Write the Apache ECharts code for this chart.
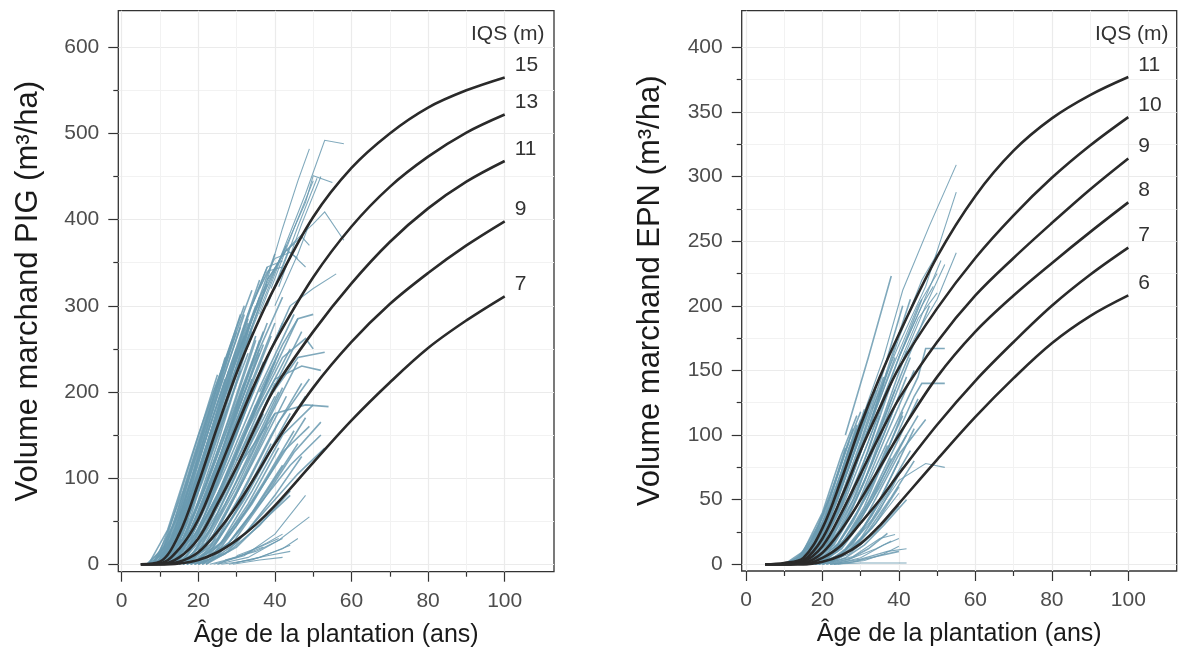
<!DOCTYPE html>
<html>
<head>
<meta charset="utf-8">
<script src="https://cdn.jsdelivr.net/npm/echarts@6/dist/echarts.min.js"></script>
<style>
  html, body { margin: 0; padding: 0; background: #fff; }
  #chart { width: 1178px; height: 650px; }
</style>
</head>
<body>
<div id="chart"></div>
<script>
// ages of the reference curves (ans)
var ages = [5, 10, 15, 20, 25, 30, 35, 40, 50, 60, 70, 80, 90, 100];

// PIG curves, volume (m3/ha) for each IQS
var pigIqs = ['15', '13', '11', '9', '7'];
var pig15 = [0, 3, 35, 94, 160, 222, 275, 322, 403, 460, 500, 530, 550, 565];
var pig13 = [0, 1, 18, 52, 105, 160, 212, 258, 333, 392, 438, 473, 501, 522];
var pig11 = [0, 0, 8, 30, 70, 113, 160, 205, 270, 326, 374, 413, 444, 468];
var pig9 = [0, 0, 3, 14, 38, 68, 103, 140, 205, 258, 302, 338, 370, 398];
var pig7 = [0, 0, 1, 5, 14, 28, 46, 68, 118, 167, 211, 251, 283, 311];

// EPN curves
var epnIqs = ['11', '10', '9', '8', '7', '6'];
var epn11 = [0, 1, 5, 28, 66, 108, 145, 178, 238, 285, 320, 345, 363, 377];
var epn10 = [0, 0, 3, 20, 52, 88, 121, 152, 198, 237, 270, 299, 324, 346];
var epn9 = [0, 0, 2, 14, 40, 70, 100, 128, 172, 208, 237, 264, 290, 314];
var epn8 = [0, 0, 1, 9, 27, 50, 75, 100, 145, 180, 208, 233, 257, 280];
var epn7 = [0, 0, 0, 5, 15, 32, 50, 70, 108, 142, 172, 200, 224, 245];
var epn6 = [0, 0, 0, 2, 7, 16, 30, 47, 81, 114, 144, 171, 192, 208];

// plot measurement trajectories (age, volume), PIG
var pigPlotsA = [
  [[7,0],[12,40],[20,150],[28,250],[32,300]],
  [[8,0],[14,50],[22,160],[30,270],[34,318]],
  [[9,0],[15,45],[23,160],[31,265],[36,330]],
  [[8,0],[13,30],[20,120],[26,200],[30,250]],
  [[10,0],[16,50],[24,165],[33,290],[38,345]],
  [[9,0],[14,30],[21,120],[28,215],[35,300]],
  [[11,0],[17,50],[25,160],[32,260],[40,360]],
  [[7,0],[11,20],[18,120],[25,220]],
  [[10,2],[16,40],[22,130],[28,215]],
  [[12,0],[18,55],[26,170],[34,285],[43,370]],
  [[8,0],[12,25],[19,125],[27,235],[31,290]],
  [[9,0],[13,25],[20,110],[27,205],[33,280]],
  [[10,0],[15,35],[22,125],[29,225],[36,310]],
  [[11,0],[16,35],[23,130],[30,225],[38,325]],
  [[6.5,0],[10,15],[16,85],[24,200],[29,260]]
];
var pigPlotsU = [
  [[30,240],[36,310],[42,360],[45,372]],
  [[33,270],[38,330],[43,365],[46,355]],
  [[34,300],[38,345],[42,352]],
  [[36,320],[40,355],[44,362],[48,345]],
  [[28,220],[34,300],[38,340],[42,345]],
  [[38,330],[43,365],[47,380],[49,370]],
  [[30,230],[36,300],[42,390],[46,445],[49,482]],
  [[32,250],[40,340],[48,430],[53,492],[58,488]],
  [[36,290],[42,360],[48,420],[50,451],[55,443]],
  [[38,300],[44,370],[50,395],[53,409],[58,376]],
  [[44,300],[50,320],[56,337]],
  [[40,300],[46,360],[49,395]],
  [[39,320],[45,390],[50,445]],
  [[40,320],[46,392],[51,448]],
  [[41,322],[47,395],[52,450]]
];
var pigPlotsB = [
  [[10,0],[16,30],[22,90],[30,185],[38,280]],
  [[11,0],[17,30],[24,100],[32,190],[40,280]],
  [[12,0],[18,30],[25,95],[33,185],[42,280]],
  [[11,0],[18,40],[26,130],[34,230],[42,310]],
  [[12,0],[19,40],[27,120],[35,210],[44,300]],
  [[13,0],[20,40],[28,120],[36,205],[45,290]],
  [[10,0],[17,35],[24,115],[31,200],[37,270]],
  [[14,0],[21,40],[29,115],[37,200],[46,285]],
  [[12,0],[20,50],[27,130],[34,215]],
  [[15,0],[22,40],[30,110],[38,190],[47,270]],
  [[13,0],[19,30],[26,90],[33,160],[40,235]],
  [[14,0],[20,30],[28,100],[36,180],[44,250]],
  [[30,120],[38,190],[46,240],[53,246]],
  [[32,150],[40,215],[47,230],[52,225]],
  [[34,170],[42,240],[48,262],[50,250]],
  [[30,110],[40,175],[48,185],[54,183]],
  [[36,200],[42,255],[46,285],[50,290]],
  [[11,0],[16,20],[23,85],[31,175],[39,265]],
  [[13,0],[18,20],[25,80],[32,150],[41,245]]
];
var pigPlotsC = [
  [[15,0],[22,25],[30,90],[38,165],[46,235]],
  [[16,0],[23,20],[31,80],[39,150],[47,210]],
  [[17,0],[24,20],[32,75],[40,140],[48,195]],
  [[18,0],[25,20],[33,65],[41,120],[48,170]],
  [[16,0],[24,30],[32,100],[40,175]],
  [[19,0],[26,20],[34,70],[42,130],[49,160]],
  [[20,0],[28,25],[36,70],[44,115],[52,150]],
  [[22,0],[30,25],[38,65],[46,105],[53,135]],
  [[18,0],[26,25],[34,85],[42,150],[50,185]],
  [[21,0],[29,25],[37,75],[45,130],[52,165]],
  [[20,0],[28,15],[36,45],[44,85]],
  [[22,0],[30,20],[38,55],[44,80]],
  [[17,0],[25,30],[33,95],[41,165],[49,215]]
];
var pigPlotsD = [
  [[24,0],[32,10],[40,35],[48,80]],
  [[25,0],[33,8],[41,28],[49,55]],
  [[26,0],[34,5],[42,18],[46,30]],
  [[28,0],[36,8],[44,22]],
  [[27,5],[35,15],[42,30]],
  [[30,2],[38,10],[44,15]],
  [[25,0],[32,12],[38,25],[42,35]],
  [[29,0],[36,5],[42,8]],
  [[23,0],[30,8],[37,20]],
  [[30,10],[36,20],[41,30]]
];
var pigPlotsE = [
  [[8,0],[13,35],[19,110],[26,210],[31,275]],
  [[9,0],[14,35],[20,105],[27,200],[32,265]],
  [[10,0],[15,30],[21,95],[28,185],[34,270]],
  [[11,0],[16,30],[22,95],[29,180],[35,260]],
  [[12,0],[17,30],[23,95],[30,175],[37,255]],
  [[13,0],[18,30],[24,90],[31,165],[38,240]],
  [[14,0],[19,28],[25,80],[32,150],[39,225]],
  [[15,0],[20,25],[26,75],[33,140],[40,210]],
  [[16,0],[21,25],[27,70],[34,130],[42,205]],
  [[10,0],[14,20],[20,85],[27,175],[33,245]],
  [[9,0],[13,20],[19,90],[26,185],[31,240]],
  [[12,0],[16,20],[22,80],[29,165],[36,245]],
  [[14,0],[18,20],[24,70],[31,145],[38,215]],
  [[15,0],[19,15],[25,60],[32,125],[40,195]],
  [[17,0],[22,20],[28,65],[35,125],[43,195]],
  [[18,0],[23,15],[29,55],[36,110],[44,175]],
  [[19,0],[24,12],[30,45],[37,95],[45,155]],
  [[8,0],[12,20],[17,75],[23,160],[27,215]],
  [[7,0],[10,10],[15,60],[22,165],[26,220]],
  [[11,0],[15,25],[21,100],[28,200],[33,270]],
  [[13,0],[17,25],[23,90],[30,180],[36,260]],
  [[16,0],[20,15],[26,60],[33,125],[41,200]],
  [[20,0],[25,10],[31,40],[38,85],[46,140]],
  [[21,0],[27,12],[33,40],[40,80],[47,125]]
];
var pigPlotsF = [
  [[7.5,0],[11,15],[17,95],[24,195],[30,270]],
  [[8.5,0],[12,15],[18,95],[25,195],[32,290]],
  [[9.5,0],[13,15],[19,90],[26,190],[33,285]],
  [[10.5,0],[14,15],[20,85],[27,180],[34,275]],
  [[11.5,0],[15,15],[21,80],[28,170],[35,265]],
  [[12.5,0],[16,15],[22,75],[29,160],[36,250]],
  [[13.5,0],[17,15],[23,70],[30,150],[37,235]],
  [[9,0],[12,10],[17,60],[23,150],[28,225]],
  [[10,0],[13,10],[18,65],[24,150],[30,240]],
  [[11,0],[14,10],[19,60],[25,140],[31,225]],
  [[8,0],[11,10],[16,65],[22,155],[28,245]],
  [[7,0],[10,5],[15,50],[21,145],[27,240]],
  [[12,0],[15,10],[20,55],[26,130],[32,210]],
  [[13,0],[16,10],[21,50],[27,120],[34,205]],
  [[14,0],[17,10],[22,45],[28,105],[35,185]],
  [[15,0],[18,10],[23,40],[29,95],[37,175]],
  [[16,0],[19,8],[24,35],[30,85],[38,160]],
  [[17,0],[20,6],[25,28],[31,70],[39,140]],
  [[18,0],[22,8],[27,30],[33,70],[41,135]],
  [[19,0],[23,6],[28,25],[34,60],[42,115]]
];

// plot measurement trajectories, EPN
var epnPlotsA = [
  [[10,0],[15,10],[20,40],[25,85],[29,115]],
  [[11,0],[16,12],[21,42],[26,88],[30,118]],
  [[12,0],[17,15],[22,45],[27,90],[31,115]],
  [[10,0],[14,6],[19,30],[24,70],[28,105]],
  [[13,0],[18,15],[23,45],[28,90],[32,125]],
  [[12,0],[17,10],[22,35],[27,75],[33,130]],
  [[11,0],[16,8],[21,30],[26,68],[30,100]],
  [[26,100],[32,160],[38,223]]
];
var epnPlotsL = [
  [[30,110],[36,160],[41,212],[48,262],[55,309]],
  [[33,120],[40,170],[47,215],[55,288]],
  [[38,140],[45,180],[50,205],[55,241]],
  [[35,130],[40,175],[46,220],[50,240]],
  [[40,160],[46,200],[51,235]],
  [[41,158],[47,200],[52,232]],
  [[30,90],[38,150],[45,200],[50,225]],
  [[32,100],[40,160],[46,200],[49,215]],
  [[30,80],[38,140],[45,190],[50,210]]
];
var epnPlotsM = [
  [[13,0],[18,12],[24,45],[30,95],[36,150],[41,200]],
  [[14,0],[19,12],[25,45],[31,95],[38,160],[43,205]],
  [[14,0],[20,15],[26,50],[32,95],[40,160],[46,205]],
  [[15,0],[21,15],[27,50],[33,90],[41,150],[48,200]],
  [[15,0],[21,12],[28,50],[35,100],[43,160]],
  [[16,0],[22,12],[29,45],[36,95],[44,150]],
  [[16,0],[23,15],[30,50],[37,95],[45,145],[47,167],[52,167]],
  [[17,0],[24,15],[31,50],[38,90],[44,130],[46,140],[52,140]],
  [[17,0],[24,12],[31,42],[38,80],[45,115]],
  [[18,0],[25,12],[32,40],[40,85],[47,112]],
  [[15,0],[22,18],[29,60],[36,115],[42,165]],
  [[13,0],[19,15],[25,50],[32,105],[37,150]],
  [[12,0],[18,15],[24,55],[30,105],[35,145]]
];
var epnPlotsN = [
  [[18,0],[25,8],[32,30],[40,65],[47,78],[52,75]],
  [[19,0],[26,8],[33,28],[40,55]],
  [[20,0],[27,8],[34,25],[40,45]],
  [[20,0],[28,6],[35,20],[39,23]],
  [[22,0],[30,4],[37,10],[42,12]],
  [[22,0],[30,1],[36,1],[42,1]],
  [[21,0],[28,5],[34,12],[38,18]],
  [[19,0],[26,10],[33,35],[40,70],[45,90]],
  [[24,0],[31,3],[36,8],[40,14]],
  [[23,0],[30,5],[36,15],[40,20]]
];
var epnPlotsE = [
  [[10,0],[14,5],[18,22],[23,60],[27,95]],
  [[11,0],[15,5],[19,22],[24,60],[29,105]],
  [[12,0],[16,6],[20,25],[25,60],[30,100],[34,135]],
  [[13,0],[17,6],[21,22],[26,55],[31,95],[36,140]],
  [[14,0],[18,6],[22,22],[27,52],[32,88],[38,140]],
  [[15,0],[19,5],[23,18],[28,45],[33,78],[40,130]],
  [[16,0],[20,5],[24,16],[29,40],[34,70],[41,115]],
  [[17,0],[21,4],[25,14],[30,35],[35,60],[42,100]],
  [[18,0],[22,3],[26,12],[31,30],[36,52],[43,88]],
  [[19,0],[23,3],[27,10],[32,26],[38,52],[44,80]],
  [[12,0],[16,10],[21,35],[26,75],[31,120]],
  [[14,0],[18,10],[23,35],[28,70],[34,120],[39,160]],
  [[16,0],[20,8],[25,28],[30,58],[36,100],[42,145]],
  [[18,0],[22,6],[27,22],[32,48],[38,85],[45,128]],
  [[20,0],[24,4],[29,15],[34,32],[40,60]],
  [[21,0],[26,5],[31,15],[36,30],[42,50]],
  [[22,0],[27,4],[32,12],[37,24]],
  [[23,0],[28,2],[34,6],[40,10]]
];
var epnPlotsF = [
  [[10,0],[13,3],[17,18],[22,52],[26,90]],
  [[11,0],[14,3],[18,18],[23,52],[27,90],[30,112]],
  [[12,0],[15,3],[19,17],[24,50],[28,85],[32,118]],
  [[13,0],[16,3],[20,16],[25,46],[29,80],[33,112]],
  [[14,0],[17,3],[21,15],[26,42],[30,72],[35,115]],
  [[15,0],[18,3],[22,13],[27,38],[31,64],[36,105]],
  [[16,0],[19,2],[23,11],[28,33],[32,56],[37,92]],
  [[17,0],[20,2],[24,10],[29,30],[33,50],[38,82]],
  [[18,0],[21,2],[25,8],[30,25],[35,50],[40,80]],
  [[11,0],[15,8],[20,32],[25,72],[29,108]],
  [[13,0],[17,8],[22,30],[27,66],[32,110],[36,145]],
  [[15,0],[19,6],[24,25],[29,55],[34,95],[39,135]],
  [[17,0],[21,5],[26,20],[31,45],[36,80],[41,118]],
  [[19,0],[23,4],[28,16],[33,38],[38,68],[44,105]],
  [[20,0],[25,6],[30,20],[35,42],[41,75]]
];

// axis ticks
var xMajor = [0, 20, 40, 60, 80, 100];
var xMinor = [10, 30, 50, 70, 90];
var pigYMajor = [0, 100, 200, 300, 400, 500, 600];
var pigYMinor = [50, 150, 250, 350, 450, 550];
var epnYMajor = [0, 50, 100, 150, 200, 250, 300, 350, 400];
var epnYMinor = [25, 75, 125, 175, 225, 275, 325, 375];

var FONT = '"Liberation Sans", Arial, Helvetica, sans-serif';
var BLUE = '#6a9ab0';
var DARK = '#2a2a2a';

function majorAxis(dim, grid, min, max, ticks, name, gap) {
  return {
    type: 'value', gridIndex: grid, min: min, max: max,
    position: dim == 'x' ? 'bottom' : 'left',
    name: name, nameLocation: 'middle', nameGap: gap,
    nameTextStyle: { fontFamily: FONT, fontSize: dim == 'x' ? 25 : 31, color: '#1a1a1a' },
    axisLine: { show: false, onZero: false },
    axisTick: { show: true, length: 10, customValues: ticks, lineStyle: { color: '#333', width: 1.2 } },
    axisLabel: { show: true, customValues: ticks, margin: 19, fontFamily: FONT, fontSize: 21, color: '#4d4d4d' },
    splitLine: { show: true, lineStyle: { color: '#ebebeb', width: 1.2 } }
  };
}
function minorAxis(dim, grid, min, max, ticks) {
  return {
    type: 'value', gridIndex: grid, min: min, max: max,
    position: dim == 'x' ? 'bottom' : 'left',
    axisLine: { show: false, onZero: false },
    axisTick: { show: true, length: 5, customValues: ticks, lineStyle: { color: '#333', width: 1.2 } },
    axisLabel: { show: false },
    splitLine: { show: true, lineStyle: { color: '#f2f2f2', width: 1 } }
  };
}

function curveSeries(values, label, axisIdx) {
  var data = [];
  for (var i = 0; i < ages.length; i++) data.push([ages[i], values[i]]);
  return {
    type: 'line', name: label, xAxisIndex: axisIdx, yAxisIndex: axisIdx,
    data: data, smooth: 0.35, showSymbol: false, silent: true, z: 4,
    lineStyle: { color: DARK, width: 2.6 },
    endLabel: { show: true, formatter: label, fontFamily: FONT, fontSize: 21, color: '#333', offset: [2, -12] }
  };
}
function plotSeries(groups, axisIdx, width) {
  var data = [];
  groups.forEach(function(g) {
    g.forEach(function(c) { data.push({ coords: c }); });
  });
  return {
    type: 'lines', coordinateSystem: 'cartesian2d', polyline: true,
    xAxisIndex: axisIdx, yAxisIndex: axisIdx, data: data, silent: true, z: 3,
    lineStyle: { color: BLUE, width: width, opacity: 0.85 }
  };
}

var series = [
  plotSeries([pigPlotsA, pigPlotsB, pigPlotsC, pigPlotsE, pigPlotsF], 0, 1.6),
  plotSeries([pigPlotsU, pigPlotsD], 0, 1.1),
  plotSeries([epnPlotsA, epnPlotsM, epnPlotsE, epnPlotsF], 2, 1.6),
  plotSeries([epnPlotsL, epnPlotsN], 2, 1.1)
];
[pig15, pig13, pig11, pig9, pig7].forEach(function(v, i) {
  series.push(curveSeries(v, pigIqs[i], 0));
});
[epn11, epn10, epn9, epn8, epn7, epn6].forEach(function(v, i) {
  series.push(curveSeries(v, epnIqs[i], 2));
});

var chart = echarts.init(document.getElementById('chart'));
chart.setOption({
  animation: false,
  backgroundColor: '#fff',
  title: [
    { text: 'IQS (m)', left: 471, top: 24, padding: 0,
      textStyle: { fontFamily: FONT, fontSize: 21, fontWeight: 'normal', color: '#333' } },
    { text: 'IQS (m)', left: 1095, top: 24, padding: 0,
      textStyle: { fontFamily: FONT, fontSize: 21, fontWeight: 'normal', color: '#333' } }
  ],
  grid: [
    { left: 118.3, top: 10.7, width: 435.7, height: 561, show: true, borderColor: '#333', borderWidth: 1.3,
      backgroundColor: 'transparent', containLabel: false, outerBoundsMode: 'none' },
    { left: 741.7, top: 10.7, width: 435, height: 560.3, show: true, borderColor: '#333', borderWidth: 1.3,
      backgroundColor: 'transparent', containLabel: false, outerBoundsMode: 'none' }
  ],
  xAxis: [
    majorAxis('x', 0, -0.89, 112.87, xMajor, 'Âge de la plantation (ans)', 51),
    minorAxis('x', 0, -0.89, 112.87, xMinor),
    majorAxis('x', 1, -1.12, 112.66, xMajor, 'Âge de la plantation (ans)', 51),
    minorAxis('x', 1, -1.12, 112.66, xMinor)
  ],
  yAxis: [
    majorAxis('y', 0, -8.59, 642.4, pigYMajor, 'Volume marchand PIG (m³/ha)', 74),
    minorAxis('y', 0, -8.59, 642.4, pigYMinor),
    majorAxis('y', 1, -5.18, 428.3, epnYMajor, 'Volume marchand EPN (m³/ha)', 76),
    minorAxis('y', 1, -5.18, 428.3, epnYMinor)
  ],
  series: series
});
</script>
</body>
</html>
